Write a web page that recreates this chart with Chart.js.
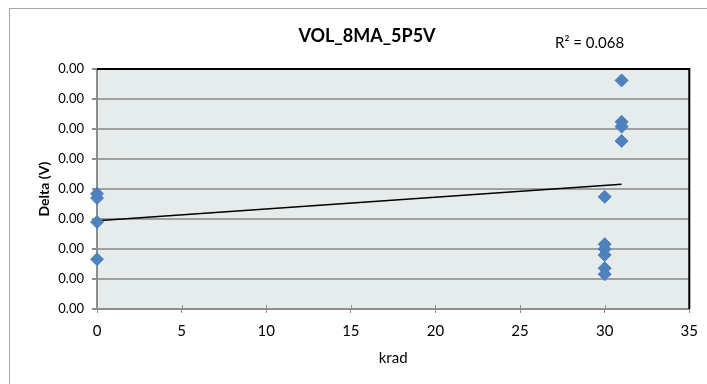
<!DOCTYPE html>
<html>
<head>
<meta charset="utf-8">
<title>VOL_8MA_5P5V</title>
<script src="https://cdn.jsdelivr.net/npm/chart.js@4.4.1/dist/chart.umd.min.js"></script>
<style>
  html, body { margin: 0; padding: 0; background: #fff; }
  #wrap { position: relative; width: 707px; height: 384px; overflow: hidden; }
  #frame { position: absolute; left: 9px; top: 8px; width: 720px; height: 400px; border: 1px solid #a6a6a6; box-sizing: border-box; }
  #chart { position: absolute; left: 0; top: 0; }
</style>
</head>
<body>
<div id="wrap">
  <div id="frame"></div>
  <canvas id="chart" width="707" height="384"></canvas>
</div>
<script>
// measured points: dose (krad) vs output delta (V)
const kradValues = [0, 0, 0, 0, 30, 30, 30, 30, 30, 30, 31, 31, 31, 31];
const deltaValues = [0.00192, 0.00185, 0.00145, 0.00083,
                     0.00187, 0.00108, 0.00100, 0.00090, 0.00068, 0.00058,
                     0.00381, 0.00312, 0.00304, 0.00280];

// linear trendline as shown on the sheet
const trendKrad = [0, 31];
const trendDelta = [0.00147, 0.00208];
const trendLabel = 'R\u00B2 = 0.068';

const chartTitle = 'VOL_8MA_5P5V';
const xTitle = 'krad';
const yTitle = 'Delta (V)';
const xTicks = { min: 0, max: 35, step: 5 };
const yTicks = { min: 0, max: 0.004, step: 0.0005 };

const FONT = 'Lato, "Open Sans", sans-serif';
const AXIS_GRAY = '#8c8c8c';

const points = kradValues.map((x, i) => ({ x: x, y: deltaValues[i] }));
const trend = trendKrad.map((x, i) => ({ x: x, y: trendDelta[i] }));

// plot area fill + black frame on top/right + short tick marks inside the x axis
const plotDecor = {
    id: 'plotDecor',
    beforeDraw(chart) {
        const { ctx, chartArea: a } = chart;
        ctx.save();
        ctx.fillStyle = '#e6ecec';
        ctx.fillRect(a.left, a.top, a.right - a.left, a.bottom - a.top);
        ctx.restore();
    },
    beforeDatasetsDraw(chart) {
        const { ctx, chartArea: a, scales } = chart;
        ctx.save();
        ctx.strokeStyle = AXIS_GRAY;
        ctx.lineWidth = 1;
        scales.x.ticks.forEach(t => {
            const px = Math.round(scales.x.getPixelForValue(t.value)) + 0.5;
            ctx.beginPath();
            ctx.moveTo(px, a.bottom - 4);
            ctx.lineTo(px, a.bottom);
            ctx.stroke();
        });
        ctx.strokeStyle = '#000';
        ctx.lineWidth = 2;
        ctx.beginPath();
        ctx.moveTo(a.left, a.top);
        ctx.lineTo(a.right, a.top);
        ctx.lineTo(a.right, a.bottom);
        ctx.stroke();
        ctx.restore();
    }
};

// chart title and trendline label
const headings = {
    id: 'headings',
    afterDraw(chart) {
        const { ctx } = chart;
        ctx.save();
        ctx.fillStyle = '#000';
        ctx.textBaseline = 'alphabetic';
        ctx.textAlign = 'center';
        ctx.font = 'bold 18px ' + FONT;
        ctx.fillText(chartTitle, 367, 42);
        ctx.textAlign = 'left';
        ctx.font = '15px ' + FONT;
        ctx.fillText(trendLabel, 555, 48);
        ctx.restore();
    }
};

new Chart(document.getElementById('chart'), {
    type: 'scatter',
    data: {
        datasets: [
            {
                label: 'Delta',
                data: points,
                pointStyle: 'rectRot',
                pointRadius: 6.5,
                pointHoverRadius: 6.5,
                backgroundColor: '#4f81bd',
                borderColor: '#4f81bd',
                borderWidth: 1,
                clip: false,
                order: 1
            },
            {
                type: 'line',
                label: 'Trend',
                data: trend,
                borderColor: '#000',
                borderWidth: 1.5,
                pointRadius: 0,
                fill: false,
                order: 2
            }
        ]
    },
    options: {
        responsive: false,
        animation: false,
        layout: { padding: { left: 0, top: 69, right: 15, bottom: 0 } },
        plugins: {
            legend: { display: false },
            tooltip: { enabled: false }
        },
        scales: {
            x: {
                type: 'linear',
                min: xTicks.min,
                max: xTicks.max,
                afterFit: s => { s.height = 75; },
                border: { color: AXIS_GRAY, width: 2 },
                grid: { drawOnChartArea: false, drawTicks: true, tickLength: 4, color: AXIS_GRAY },
                ticks: {
                    stepSize: xTicks.step,
                    padding: 9,
                    color: '#000',
                    font: { family: FONT, size: 15 }
                },
                title: {
                    display: true,
                    text: xTitle,
                    color: '#000',
                    font: { family: FONT, size: 15 },
                    padding: { top: 0, bottom: 17 }
                }
            },
            y: {
                min: yTicks.min,
                max: yTicks.max,
                afterFit: s => { s.width = 97; },
                border: { color: AXIS_GRAY, width: 2 },
                grid: { color: '#a0a0a0', lineWidth: 2, tickLength: 5, tickColor: AXIS_GRAY },
                ticks: {
                    stepSize: yTicks.step,
                    padding: 8,
                    color: '#000',
                    font: { family: FONT, size: 13 },
                    callback: v => v.toFixed(2)
                },
                title: {
                    display: true,
                    text: yTitle,
                    color: '#000',
                    font: { family: FONT, size: 14, weight: 'bold' },
                    padding: { top: 36, bottom: 0 }
                }
            }
        }
    },
    plugins: [plotDecor, headings]
});
</script>
</body>
</html>
